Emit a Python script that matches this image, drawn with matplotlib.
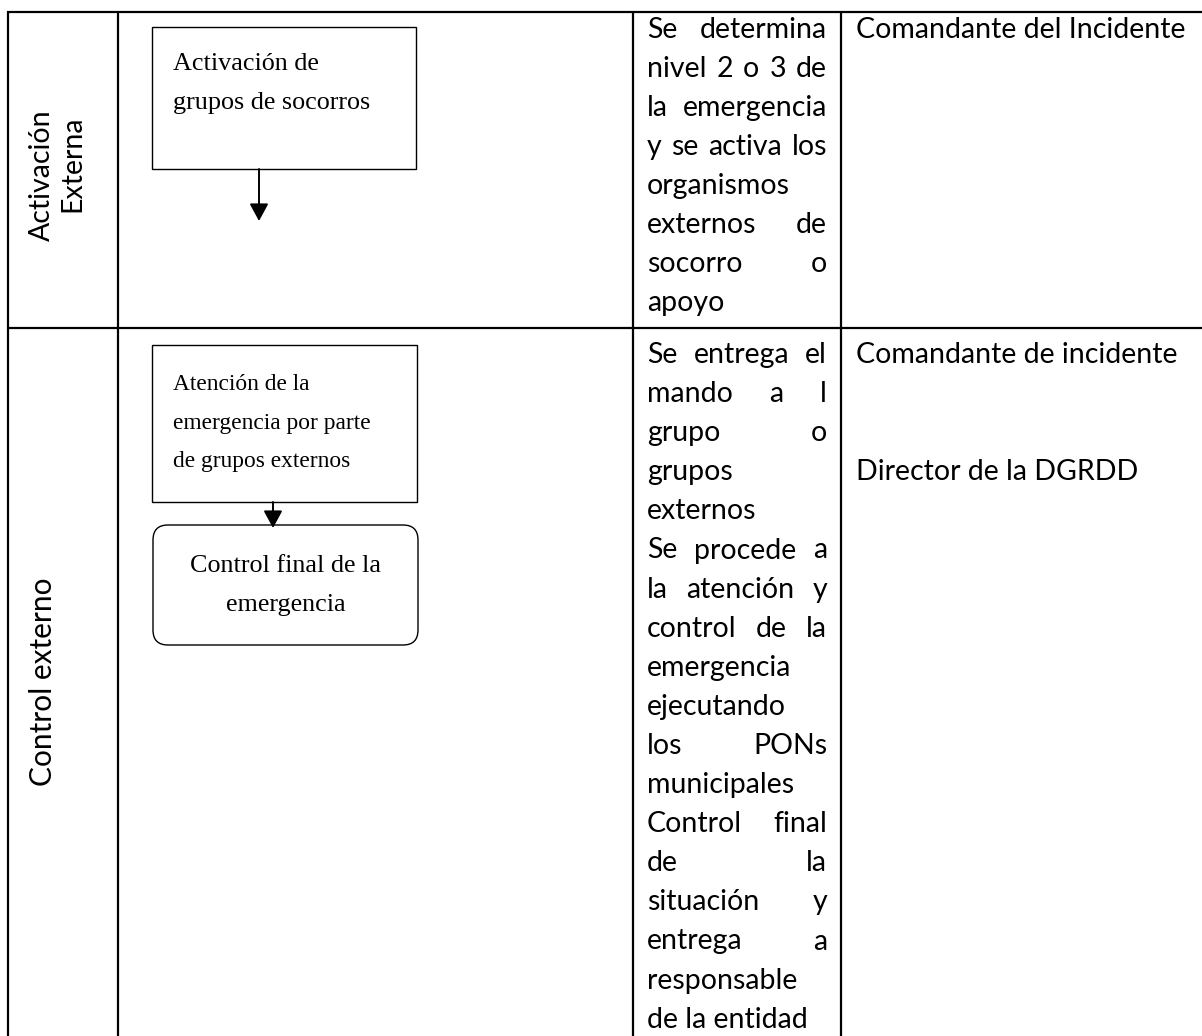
import matplotlib
matplotlib.use("Agg")
import matplotlib.pyplot as plt
from matplotlib.patches import Rectangle, FancyBboxPatch

W, H = 1202, 1036
SANS = "Lato"
SERIF = "Liberation Serif"

# table content
stage_labels = [["Activación", "Externa"], ["Control externo"]]
box_texts = [
    ["Activación de", "grupos de socorros"],
    ["Atención de la", "emergencia por parte", "de grupos externos"],
    ["Control final de la", "emergencia"],
]
descr_row1 = [
    ["Se determina", "nivel 2 o 3 de", "la emergencia", "y se activa los",
     "organismos", "externos de", "socorro o", "apoyo"],
]
descr_row2 = [
    ["Se entrega el", "mando a l", "grupo o", "grupos", "externos"],
    ["Se procede a", "la atención y", "control de la", "emergencia",
     "ejecutando", "los PONs", "municipales"],
    ["Control final", "de la", "situación y", "entrega a", "responsable",
     "de la entidad"],
]
resp_row1 = ["Comandante del Incidente"]
resp_row2 = ["Comandante de incidente", "", "", "Director de la DGRDD"]

fig = plt.figure(figsize=(W / 100, H / 100), dpi=100)
ax = fig.add_axes([0, 0, 1, 1])
ax.set_xlim(0, W)
ax.set_ylim(H, 0)
ax.axis("off")
renderer = fig.canvas.get_renderer()

# grid lines of the table
col_x = [8, 118, 633, 841]
row_y = [12, 328]
for y in row_y:
    ax.plot([col_x[0] - 1, W], [y, y], color="black", lw=1.6, solid_capstyle="butt")
for x in col_x:
    ax.plot([x, x], [row_y[0], H], color="black", lw=1.6, solid_capstyle="butt")

# stage labels (rotated)
ax.text(42, 175, stage_labels[0][0], rotation=90, ha="center", va="center",
        fontsize=20.5, family=SANS)
ax.text(72, 164, stage_labels[0][1], rotation=90, ha="center", va="center",
        fontsize=20.5, family=SANS)
ax.text(43, 682, stage_labels[1][0], rotation=90, ha="center", va="center",
        fontsize=21.5, family=SANS)

# flow boxes
ax.add_patch(Rectangle((152, 27), 264, 142, fill=False, ec="black", lw=1.0))
for i, s in enumerate(box_texts[0]):
    ax.text(173, 70 + i * 38.5, s, ha="left", va="baseline", fontsize=18.8, family=SERIF)

ax.add_patch(Rectangle((152, 345), 265, 157, fill=False, ec="black", lw=1.0))
for i, s in enumerate(box_texts[1]):
    ax.text(173, 390 + i * 38.5, s, ha="left", va="baseline", fontsize=16.8, family=SERIF)

ax.add_patch(FancyBboxPatch((153, 525), 265, 120,
                            boxstyle="round,pad=0,rounding_size=15",
                            fill=False, ec="black", lw=1.0))
for i, s in enumerate(box_texts[2]):
    ax.text(285.5, 572 + i * 38.5, s, ha="center", va="baseline", fontsize=18.8, family=SERIF)

arrow = dict(arrowstyle="-|>,head_length=0.7,head_width=0.38", mutation_scale=15,
             color="black", lw=1.4, shrinkA=0, shrinkB=0)
ax.annotate("", xy=(259, 221), xytext=(259, 169), arrowprops=arrow)
ax.annotate("", xy=(273, 528), xytext=(273, 502), arrowprops=arrow)


def draw_paragraphs(paragraphs, y0, step, left, right, size):
    k = 0
    for para in paragraphs:
        for j, line in enumerate(para):
            y = y0 + k * step
            words = line.split()
            if j == len(para) - 1 or len(words) == 1:
                ax.text(left, y, line, ha="left", va="baseline", fontsize=size, family=SANS)
            else:
                objs, widths = [], []
                for w in words:
                    t = ax.text(left, y, w, ha="left", va="baseline", fontsize=size, family=SANS)
                    objs.append(t)
                    widths.append(t.get_window_extent(renderer).width)
                gap = (right - left - sum(widths)) / (len(words) - 1)
                x = left
                for t, w in zip(objs, widths):
                    t.set_x(x)
                    x += w + gap
            k += 1


FS = 20.5
draw_paragraphs(descr_row1, 38, 39.0, 647, 827, FS)
draw_paragraphs(descr_row2, 363, 39.1, 647, 827, FS)

for i, s in enumerate(resp_row1):
    ax.text(856, 38 + i * 39.0, s, ha="left", va="baseline", fontsize=FS, family=SANS)
for i, s in enumerate(resp_row2):
    ax.text(856, 363 + i * 39.1, s, ha="left", va="baseline", fontsize=FS, family=SANS)

fig.savefig("out.png", dpi=100, facecolor="white")
